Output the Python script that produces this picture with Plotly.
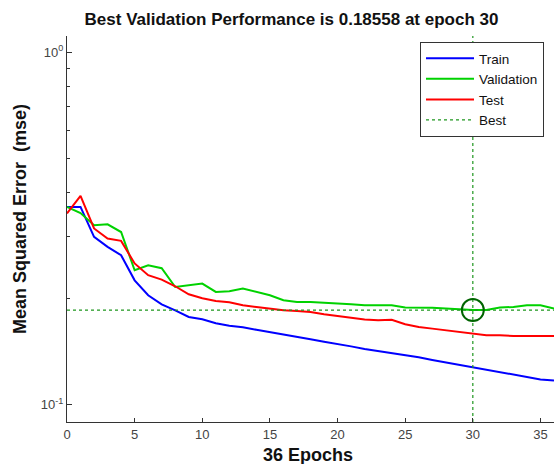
import plotly.graph_objects as go

epochs = list(range(0, 37))

train = [0.364, 0.364, 0.2993, 0.2804, 0.2655, 0.2254, 0.2044, 0.1927, 0.1853, 0.1774,
         0.1747, 0.1702, 0.1675, 0.1658, 0.1631, 0.1604, 0.1584, 0.1558, 0.1533, 0.1508,
         0.1488, 0.1464, 0.1440, 0.1422, 0.1399, 0.1380, 0.1363, 0.1340, 0.1319, 0.1302,
         0.1280, 0.1260, 0.1239, 0.1219, 0.1199, 0.1180, 0.1172]

validation = [0.364, 0.3496, 0.323, 0.325, 0.309, 0.2407, 0.2487, 0.2439, 0.2158, 0.2182,
              0.2207, 0.2089, 0.2099, 0.2136, 0.2089, 0.2044, 0.1978, 0.1956, 0.1956, 0.1943,
              0.1936, 0.1927, 0.1914, 0.1914, 0.1914, 0.1886, 0.1886, 0.1884, 0.1874, 0.1866,
              0.18558, 0.1858, 0.1886, 0.1894, 0.1914, 0.1914, 0.1874]

test = [0.3488, 0.3914, 0.3162, 0.2962, 0.2916, 0.2516, 0.2330, 0.2265, 0.2168, 0.2057,
        0.2004, 0.1969, 0.1952, 0.1914, 0.1894, 0.1874, 0.1853, 0.1845, 0.1833, 0.1805,
        0.1785, 0.1767, 0.1744, 0.1736, 0.1742, 0.1691, 0.1661, 0.1644, 0.1626, 0.1608,
        0.1584, 0.1574, 0.1574, 0.1566, 0.1566, 0.1566, 0.1566]

best_epoch = 30
best_perf = 0.18558

x_ticks = [0, 5, 10, 15, 20, 25, 30, 35]
y_ticks = [0.1, 1]
y_ticktext = ["10<sup>-1</sup>", "10<sup>0</sup>"]
y_minor = [0.2, 0.3, 0.4, 0.5, 0.6, 0.7, 0.8, 0.9]

x_range = [0, 36]
y_log_range = [-1.049, 0.046]

FONT = "Liberation Sans, Arial, sans-serif"
best_color = "rgb(30,150,30)"

L, R, T, B = 67, 0, 36, 42
W, H = 554, 464
PW, PH = W - L - R, H - T - B


def px_x(p):
    return (p - L) / PW


def px_y(p):
    return (H - B - p) / PH


fig = go.Figure()
fig.add_trace(go.Scatter(x=epochs, y=train, mode="lines", name="Train",
                         line=dict(color="rgb(0,0,255)", width=2)))
fig.add_trace(go.Scatter(x=epochs, y=validation, mode="lines", name="Validation",
                         line=dict(color="rgb(0,210,0)", width=2)))
fig.add_trace(go.Scatter(x=epochs, y=test, mode="lines", name="Test",
                         line=dict(color="rgb(255,0,0)", width=2)))
fig.add_trace(go.Scatter(x=x_range, y=[best_perf, best_perf], mode="lines", name="Best",
                         line=dict(color=best_color, width=1.2, dash="3px,3px")))
fig.add_trace(go.Scatter(x=[best_epoch, best_epoch],
                         y=[10 ** y_log_range[0], 10 ** y_log_range[1]],
                         mode="lines", showlegend=False, cliponaxis=False,
                         line=dict(color=best_color, width=1.2, dash="3px,3px")))
fig.add_trace(go.Scatter(x=[best_epoch], y=[best_perf], mode="markers", showlegend=False,
                         marker=dict(symbol="circle-open", size=22,
                                     color="rgb(0,100,0)", line=dict(width=2, color="rgb(0,100,0)"))))

fig.update_layout(
    width=W, height=H,
    margin=dict(l=L, r=R, t=T, b=B),
    paper_bgcolor="white", plot_bgcolor="white",
    font=dict(family=FONT, size=13, color="#333333"),
    title=dict(text="<b>Best Validation Performance is 0.18558 at epoch 30</b>",
               font=dict(family=FONT, size=17, color="#111111"),
               x=291.5 / W, xref="container", xanchor="center",
               y=1 - 19 / H, yref="container", yanchor="middle"),
    legend=dict(x=px_x(420), xanchor="left", y=px_y(42), yanchor="top",
                bgcolor="white", bordercolor="#333333", borderwidth=1,
                font=dict(family=FONT, size=13.5, color="#111111"),
                itemwidth=48, tracegroupgap=0,
                entrywidth=0.2, entrywidthmode="fraction"),
    showlegend=True,
)

fig.update_xaxes(range=x_range, tickvals=x_ticks, ticks="inside", ticklen=4,
                 tickcolor="#333333", showline=True, linecolor="#333333", linewidth=1,
                 showgrid=False, zeroline=False, mirror=False, automargin=False,
                 tickfont=dict(family=FONT, size=13, color="#444444"))
fig.update_yaxes(type="log", range=y_log_range, tickvals=y_ticks, ticktext=y_ticktext,
                 ticks="inside", ticklen=5, tickcolor="#333333",
                 showline=True, linecolor="#333333", linewidth=1,
                 showgrid=False, zeroline=False, mirror=False, automargin=False,
                 tickfont=dict(family=FONT, size=13, color="#444444"),
                 minor=dict(tickvals=y_minor, ticks="inside", ticklen=3,
                            tickcolor="#333333", showgrid=False))

fig.add_annotation(text="<b>Mean Squared Error  (mse)</b>", xref="paper", yref="paper",
                   x=px_x(20), y=px_y(219), xanchor="center", yanchor="middle",
                   textangle=-90, showarrow=False,
                   font=dict(family=FONT, size=18, color="#111111"))
fig.add_annotation(text="<b>36 Epochs</b>", xref="paper", yref="paper",
                   x=px_x(308), y=px_y(455), xanchor="center", yanchor="middle",
                   showarrow=False,
                   font=dict(family=FONT, size=18, color="#111111"))

fig.write_html("out.html", config={"displayModeBar": False},
               post_script="document.body.style.margin='0';document.body.style.overflow='hidden';")
